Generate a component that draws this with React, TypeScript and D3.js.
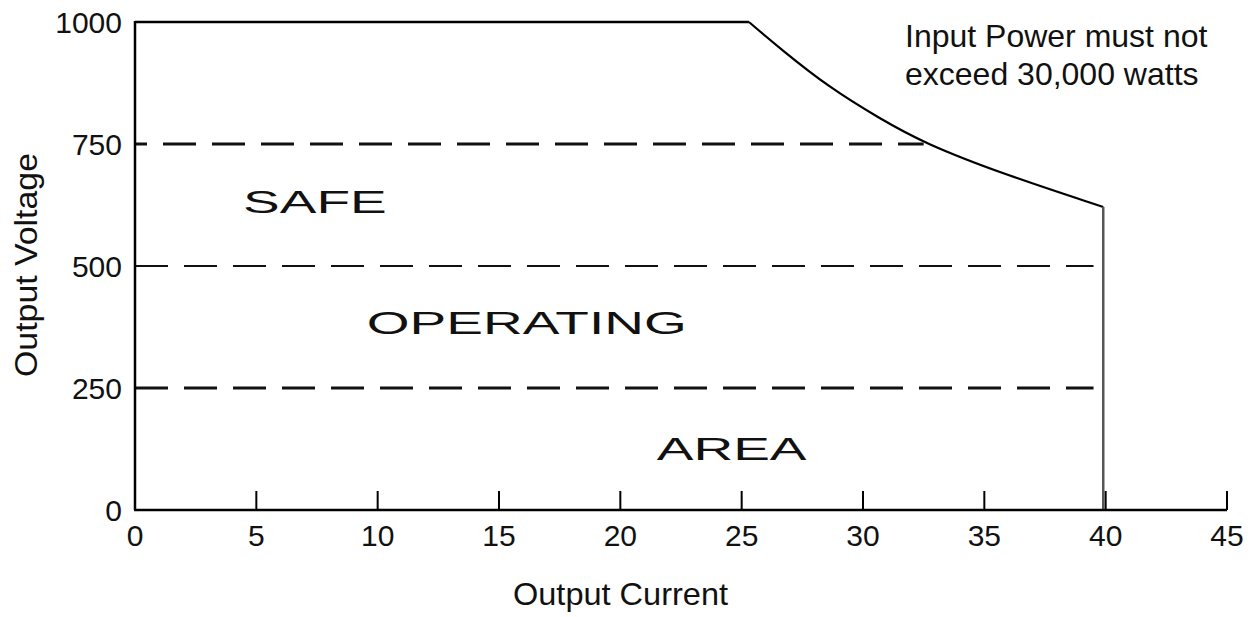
import React from "react";
import * as d3 from "d3";

const xTicks = [5, 10, 15, 20, 25, 30, 35, 40, 45];
const xTickLabels = ["0", "5", "10", "15", "20", "25", "30", "35", "40", "45"];
const xLabelValues = [0, 5, 10, 15, 20, 25, 30, 35, 40, 45];
const yTickValues = [0, 250, 500, 750, 1000];
const yTickLabels = ["0", "250", "500", "750", "1000"];

// Constant-voltage limit (top line)
const topCurrent = [0, 25.3];
const topVoltage = [1000, 1000];
// Power-limited curve
const curveCurrent = [25.3, 26.6, 28.6, 30.7, 32.5, 35.8, 39.9];
const curveVoltage = [1000, 945, 866, 802, 752, 688, 621];
const currentLimit = 39.9;

// Dashed reference lines: voltage level and the current where each ends
const dashVoltages = [750, 500, 250];
const dashEnds = [32.5, 39.5, 39.5];
const dashWidths = [3, 2, 3];
const dashOffsets = [21, 0, 0];

const regionLabels = ["SAFE", "OPERATING", "AREA"];
const regionX = [4.45, 9.55, 21.5];
const regionY = [608, 360, 102];

const note = ["Input Power must not", "exceed 30,000 watts"];

export default function App() {
  const W = 1257, H = 617;
  const x = d3.scaleLinear().domain([0, 45]).range([135, 1227]);
  const y = d3.scaleLinear().domain([0, 1000]).range([510, 22]);
  const font = "'Liberation Sans', Arial, Helvetica, sans-serif";

  const toPts = (cs: number[], vs: number[]) => cs.map((c, i) => [c, vs[i]] as [number, number]);
  const straight = d3.line<[number, number]>().x(d => x(d[0])).y(d => y(d[1]));
  const smooth = d3.line<[number, number]>().x(d => x(d[0])).y(d => y(d[1])).curve(d3.curveBasis);
  const topPath = straight(toPts(topCurrent, topVoltage)) || "";
  const curvePath = smooth(toPts(curveCurrent, curveVoltage)) || "";

  return (
    <svg width={W} height={H} style={{ position: "absolute", left: 0, top: 0, background: "#fff" }}>
      <rect width={W} height={H} fill="#fff" />
      {dashVoltages.map((v, i) => (
        <line key={"d" + i} x1={x(0)} x2={x(dashEnds[i])} y1={y(v)} y2={y(v)}
          stroke="#111" strokeWidth={dashWidths[i]} strokeDasharray="33 16" strokeDashoffset={dashOffsets[i]} />
      ))}
      <path d={topPath} fill="none" stroke="#000" strokeWidth={2.5} />
      <path d={curvePath} fill="none" stroke="#000" strokeWidth={2.2} strokeLinejoin="round" />
      <line x1={x(currentLimit)} x2={x(currentLimit)} y1={y(curveVoltage[curveVoltage.length - 1])} y2={y(0)}
        stroke="#555" strokeWidth={2.5} />
      <line x1={x(0)} x2={x(0)} y1={y(0)} y2={y(1000) - 1} stroke="#000" strokeWidth={2.5} />
      <line x1={x(0) - 1} x2={x(45)} y1={y(0)} y2={y(0)} stroke="#000" strokeWidth={2.5} />
      {xTicks.map(t => (
        <line key={"t" + t} x1={x(t)} x2={x(t)} y1={y(0)} y2={y(0) - 19} stroke="#000" strokeWidth={2} />
      ))}
      {xLabelValues.map((t, i) => (
        <text key={"xl" + t} x={x(t)} y={546} textAnchor="middle" fontFamily={font} fontSize={30} fill="#111">
          {xTickLabels[i]}
        </text>
      ))}
      {yTickValues.map((v, i) => (
        <text key={"yl" + v} x={122} y={y(v) + 10.5} textAnchor="end" fontFamily={font} fontSize={30} fill="#111">
          {yTickLabels[i]}
        </text>
      ))}
      <text x={513} y={605} textLength={215} lengthAdjust="spacingAndGlyphs" fontFamily={font} fontSize={32} fill="#111">
        Output Current
      </text>
      <text transform={`translate(37,377) rotate(-90)`} textLength={224} lengthAdjust="spacingAndGlyphs"
        fontFamily={font} fontSize={32} fill="#111">
        Output Voltage
      </text>
      {regionLabels.map((s, i) => (
        <text key={s} transform={`translate(${x(regionX[i])},${y(regionY[i])}) scale(1.72,1)`}
          fontFamily={font} fontSize={32} fill="#111">{s}</text>
      ))}
      {note.map((s, i) => (
        <text key={"n" + i} x={905} y={47 + i * 38} fontFamily={font} fontSize={32} fill="#111">{s}</text>
      ))}
    </svg>
  );
}
